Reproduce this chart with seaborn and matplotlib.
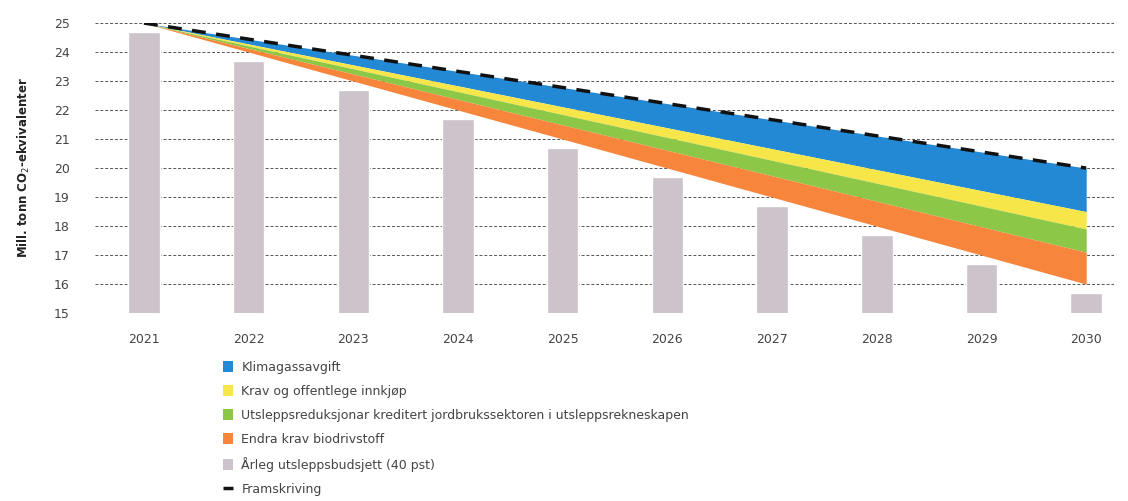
import matplotlib
matplotlib.use("Agg")
import matplotlib.pyplot as plt
import seaborn as sns
import pandas as pd
from matplotlib.patches import Patch
from matplotlib.lines import Line2D

years = ["2021", "2022", "2023", "2024", "2025", "2026", "2027", "2028", "2029", "2030"]
budget = [24.7, 23.7, 22.7, 21.7, 20.7, 19.7, 18.7, 17.7, 16.7, 15.7]

# straight lines: values at first and last year
line_years = ["2021", "2030"]
framskriving = [25.0, 20.0]
after_klimagass = [25.0, 18.5]
after_krav = [25.0, 17.9]
after_utslepp = [25.0, 17.1]
after_biodrivstoff = [25.0, 16.0]

labels = [
    "Klimagassavgift",
    "Krav og offentlege innkjøp",
    "Utsleppsreduksjonar kreditert jordbrukssektoren i utsleppsrekneskapen",
    "Endra krav biodrivstoff",
    "Årleg utsleppsbudsjett (40 pst)",
    "Framskriving",
]
colors = ["#2389d4", "#f7e64a", "#8cc748", "#f7853c", "#cdc3ca", "#111111"]

sns.set_style("white")
plt.rcParams["font.family"] = ["DejaVu Sans"]

fig = plt.figure(figsize=(11.28, 5.01), dpi=100)
ax = fig.add_axes([0.084, 0.375, 0.904, 0.579])

df = pd.DataFrame({"year": years, "budget": budget})
sns.barplot(data=df, x="year", y="budget", color=colors[4], width=0.3,
            saturation=1, ax=ax, zorder=2)

pos = [years.index(y) for y in line_years]
ax.fill_between(pos, after_klimagass, framskriving, color=colors[0], lw=0, zorder=3)
ax.fill_between(pos, after_krav, after_klimagass, color=colors[1], lw=0, zorder=3)
ax.fill_between(pos, after_utslepp, after_krav, color=colors[2], lw=0, zorder=3)
ax.fill_between(pos, after_biodrivstoff, after_utslepp, color=colors[3], lw=0, zorder=3)
sns.lineplot(x=pos, y=framskriving, color="#111111", lw=2.5, ax=ax, zorder=4,
             dashes=False, linestyle=(0, (4, 3)))

ax.set_ylim(15, 25)
ax.set_xlim(-0.47, 9.27)
ax.set_yticks(range(15, 26))
ax.yaxis.grid(True, color="#555555", linestyle=(0, (3, 2)), lw=0.7, zorder=0)
ax.set_axisbelow(True)
for s in ax.spines.values():
    s.set_visible(False)
ax.tick_params(axis="both", length=0, labelsize=9, colors="#444444")
ax.tick_params(axis="x", pad=14)
ax.tick_params(axis="y", pad=18)
ax.set_xlabel("")
ax.set_ylabel("Mill. tonn CO$_2$-ekvivalenter", fontsize=8.5, fontweight="bold",
              color="#222222", labelpad=16)

handles = [Patch(facecolor=c, edgecolor="none") for c in colors[:5]]
handles.append(Line2D([0], [0], color="#111111", lw=2.5, linestyle=(0, (4, 3))))
fig.legend(handles, labels, loc="upper left", bbox_to_anchor=(0.193, 0.29),
           frameon=False, fontsize=9, labelspacing=0.88, handlelength=0.8,
           handleheight=1.0, handletextpad=0.7, borderaxespad=0, labelcolor="#444444")

fig.savefig("out.png", dpi=100)
